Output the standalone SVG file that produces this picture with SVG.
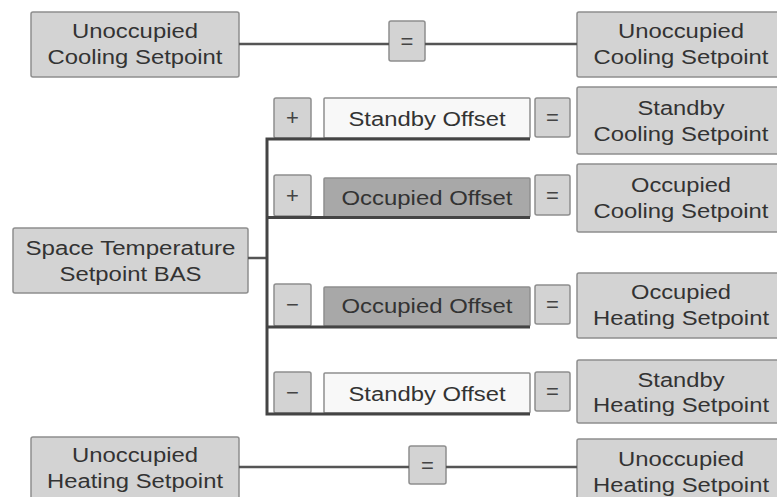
<svg xmlns="http://www.w3.org/2000/svg" width="777" height="497" viewBox="0 0 777 497">
<style>
.box{fill:#d3d3d3;stroke:#8e8e8e;stroke-width:1.5}
.white{fill:#f8f8f8;stroke:#8e8e8e;stroke-width:1.5}
.dark{fill:#a8a8a8;stroke:#8e8e8e;stroke-width:1.5}
.op{fill:#d3d3d3;stroke:#8e8e8e;stroke-width:1.5}
text{font-family:"Liberation Sans",Arial,sans-serif;font-size:20px;fill:#333;text-anchor:middle}
.sym{font-size:22px;fill:#444}
.ln{stroke:#555;stroke-width:2.5;fill:none}
.br{stroke:#444;stroke-width:3;fill:none}
</style>
<rect width="777" height="497" fill="#fff"/>
<g id="unocc-cool-in">
<rect class="box" x="31" y="12" width="208" height="65" rx="2"/>
<text x="135" y="38" textLength="126" lengthAdjust="spacingAndGlyphs">Unoccupied</text>
<text x="135" y="64" textLength="175" lengthAdjust="spacingAndGlyphs">Cooling Setpoint</text>
</g>
<g id="eq1"><rect class="op" x="389" y="21" width="36" height="40" rx="2"/><text class="sym" x="407" y="49">=</text></g>
<g id="unocc-cool-out">
<rect class="box" x="577" y="12" width="208" height="65" rx="2"/>
<text x="681" y="38" textLength="126" lengthAdjust="spacingAndGlyphs">Unoccupied</text>
<text x="681" y="64" textLength="175" lengthAdjust="spacingAndGlyphs">Cooling Setpoint</text>
</g>
<g id="plus1"><rect class="op" x="274" y="98" width="37" height="40" rx="2"/><text class="sym" x="292.5" y="125">+</text></g>
<g id="standby-offset-1"><rect class="white" x="324" y="98" width="206" height="40" rx="1"/><text x="427" y="126" textLength="157" lengthAdjust="spacingAndGlyphs">Standby Offset</text></g>
<g id="eq2"><rect class="op" x="535" y="98" width="35" height="39" rx="2"/><text class="sym" x="552.5" y="125">=</text></g>
<g id="standby-cool">
<rect class="box" x="577" y="87" width="208" height="67" rx="2"/>
<text x="681" y="115" textLength="87" lengthAdjust="spacingAndGlyphs">Standby</text>
<text x="681" y="141" textLength="175" lengthAdjust="spacingAndGlyphs">Cooling Setpoint</text>
</g>
<g id="plus2"><rect class="op" x="274" y="175" width="37" height="41" rx="2"/><text class="sym" x="292.5" y="203">+</text></g>
<g id="occupied-offset-1"><rect class="dark" x="324" y="178" width="206" height="39" rx="1"/><text x="427" y="205" textLength="171" lengthAdjust="spacingAndGlyphs">Occupied Offset</text></g>
<g id="eq3"><rect class="op" x="535" y="175" width="35" height="40" rx="2"/><text class="sym" x="552.5" y="203">=</text></g>
<g id="occ-cool">
<rect class="box" x="577" y="164" width="208" height="68" rx="2"/>
<text x="681" y="192" textLength="100" lengthAdjust="spacingAndGlyphs">Occupied</text>
<text x="681" y="218" textLength="175" lengthAdjust="spacingAndGlyphs">Cooling Setpoint</text>
</g>
<g id="space-temp">
<rect class="box" x="13" y="228" width="235" height="65" rx="2"/>
<text x="130.5" y="255" textLength="210" lengthAdjust="spacingAndGlyphs">Space Temperature</text>
<text x="130.5" y="281" textLength="142" lengthAdjust="spacingAndGlyphs">Setpoint BAS</text>
</g>
<g id="minus1"><rect class="op" x="274" y="284" width="37" height="42" rx="2"/><text class="sym" x="292.5" y="312">−</text></g>
<g id="occupied-offset-2"><rect class="dark" x="324" y="287" width="206" height="39" rx="1"/><text x="427" y="313" textLength="171" lengthAdjust="spacingAndGlyphs">Occupied Offset</text></g>
<g id="eq4"><rect class="op" x="535" y="285" width="35" height="39" rx="2"/><text class="sym" x="552.5" y="312">=</text></g>
<g id="occ-heat">
<rect class="box" x="577" y="273" width="208" height="65" rx="2"/>
<text x="681" y="299" textLength="100" lengthAdjust="spacingAndGlyphs">Occupied</text>
<text x="681" y="325" textLength="176" lengthAdjust="spacingAndGlyphs">Heating Setpoint</text>
</g>
<g id="minus2"><rect class="op" x="274" y="372" width="37" height="41" rx="2"/><text class="sym" x="292.5" y="400">−</text></g>
<g id="standby-offset-2"><rect class="white" x="324" y="373" width="206" height="40" rx="1"/><text x="427" y="401" textLength="157" lengthAdjust="spacingAndGlyphs">Standby Offset</text></g>
<g id="eq5"><rect class="op" x="535" y="372" width="35" height="39" rx="2"/><text class="sym" x="552.5" y="399">=</text></g>
<g id="standby-heat">
<rect class="box" x="577" y="360" width="208" height="63" rx="2"/>
<text x="681" y="387" textLength="87" lengthAdjust="spacingAndGlyphs">Standby</text>
<text x="681" y="412" textLength="176" lengthAdjust="spacingAndGlyphs">Heating Setpoint</text>
</g>
<g id="unocc-heat-in">
<rect class="box" x="31" y="437" width="208" height="70" rx="2"/>
<text x="135" y="462" textLength="126" lengthAdjust="spacingAndGlyphs">Unoccupied</text>
<text x="135" y="488" textLength="176" lengthAdjust="spacingAndGlyphs">Heating Setpoint</text>
</g>
<g id="eq6"><rect class="op" x="409" y="446" width="37" height="38" rx="2"/><text class="sym" x="427.5" y="473">=</text></g>
<g id="unocc-heat-out">
<rect class="box" x="577" y="439" width="208" height="70" rx="2"/>
<text x="681" y="466" textLength="126" lengthAdjust="spacingAndGlyphs">Unoccupied</text>
<text x="681" y="492" textLength="176" lengthAdjust="spacingAndGlyphs">Heating Setpoint</text>
</g>
<g id="connectors">
<path class="ln" d="M239 44H389M425 44H577"/>
<path class="ln" d="M239 467H409M446 467H577"/>
<path class="ln" d="M248 258H267"/>
<path class="br" d="M267 137.5V414.5M265.5 139H530M267 217.5H530M267 327H530M265.5 414H530"/>
</g>
</svg>
